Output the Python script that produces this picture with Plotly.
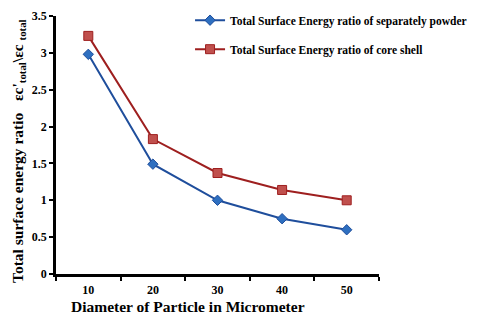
import plotly.graph_objs as go

# Data
diameters = ['10', '20', '30', '40', '50']
separate_powder = [2.98, 1.49, 1.0, 0.75, 0.6]
core_shell = [3.23, 1.83, 1.37, 1.14, 1.0]
y_ticks = [0, 0.5, 1, 1.5, 2, 2.5, 3, 3.5]
y_tick_text = ['0', '0.5', '1', '1.5', '2', '2.5', '3', '3.5']

FONT = 'Liberation Serif'
BLUE = '#1f4e9c'
BLUE_MK = '#2e6fc0'
RED = '#9e1f1f'
RED_MK = '#c0504d'

# the page body has an 8px margin, so the figure is 464x306 shifted by 8px
fig = go.Figure(layout={
    'plot_bgcolor': 'white',
    'paper_bgcolor': 'white',
    'margin': {'l': 48, 'r': 93, 't': 8, 'b': 40, 'autoexpand': False},
    'font': {'family': FONT, 'color': 'black'},
    'showlegend': True,
})

fig.add_trace(go.Scatter(
    x=diameters, y=separate_powder,
    mode='lines+markers',
    name='<b>Total Surface Energy ratio of separately powder</b>',
    legendgroup='a',
    line={'color': BLUE, 'width': 2},
    marker={'symbol': 'diamond', 'size': 8, 'color': BLUE_MK,
            'line': {'color': BLUE, 'width': 1}},
))
fig.add_trace(go.Scatter(
    x=diameters, y=core_shell,
    mode='lines+markers',
    name='<b>Total Surface Energy ratio of core shell</b>',
    legendgroup='b',
    line={'color': RED, 'width': 2},
    marker={'symbol': 'square', 'size': 9, 'color': RED_MK,
            'line': {'color': RED, 'width': 1}},
))

fig.update_xaxes(
    type='category',
    range=[-0.5, 4.5],
    tickson='boundaries',
    tickvals=diameters,
    ticktext=['<b>%s</b>' % d for d in diameters],
    ticks='outside', ticklen=4, tickwidth=2, tickcolor='black',
    showline=True, linecolor='black', linewidth=2.5,
    showgrid=False, zeroline=False,
    tickfont={'size': 12, 'family': FONT},
    ticklabelstandoff=3,
)
fig.update_yaxes(
    range=[0, 3.5],
    tickvals=y_ticks,
    ticktext=['<b>%s</b>' % t for t in y_tick_text],
    ticks='outside', ticklen=4, tickwidth=2, tickcolor='black',
    showline=True, linecolor='black', linewidth=2.5,
    showgrid=False, zeroline=False,
    tickfont={'size': 12, 'family': FONT},
)

# axis titles (placed as annotations, as in the original they are off-centre)
fig.add_annotation(
    text='<b>Diameter of Particle in Micrometer</b>',
    xref='paper', yref='paper', x=0.41, y=0,
    xanchor='center', yanchor='middle', yshift=-32,
    showarrow=False, font={'size': 15.5, 'family': FONT},
)
fig.add_annotation(
    text='<b>Total surface energy ratio   εc\'<sub>total</sub>\\εc <sub>total</sub></b>',
    xref='paper', yref='paper', x=0, y=0.5,
    xanchor='center', yanchor='middle', xshift=-38, yshift=-6,
    textangle=-90,
    showarrow=False, font={'size': 15.5, 'family': FONT},
)

fig.update_layout(legend={
    'x': 0.415, 'y': 1.04, 'xanchor': 'left', 'yanchor': 'top',
    'bgcolor': 'rgba(0,0,0,0)',
    'font': {'size': 11.5, 'family': FONT, 'color': 'black'},
    'tracegroupgap': 10,
    'itemwidth': 30,
})

fig.write_html('out.html')
